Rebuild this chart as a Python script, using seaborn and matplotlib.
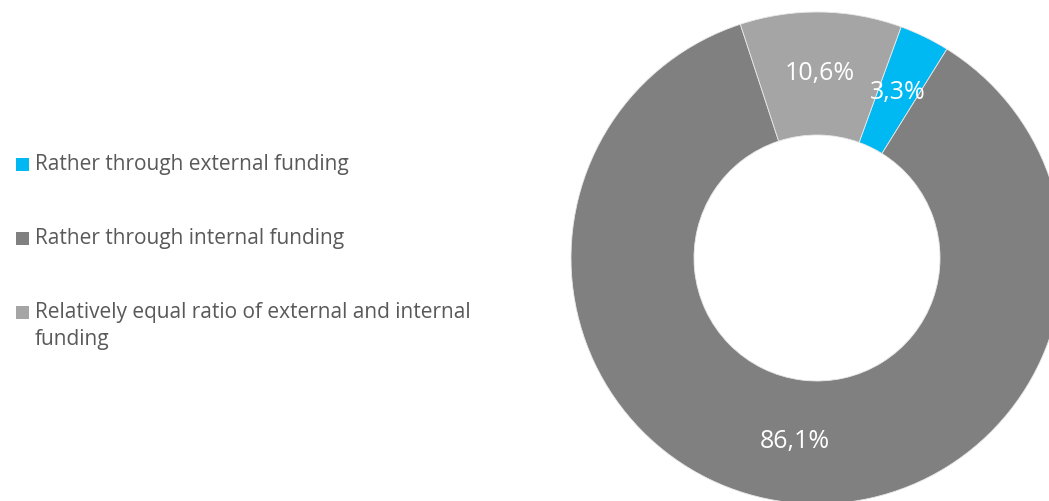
import matplotlib
matplotlib.use("Agg")
import matplotlib.pyplot as plt
from matplotlib.patches import Rectangle
import seaborn as sns

# Funding structure shares (percent)
categories = [
    "Rather through external funding",
    "Rather through internal funding",
    "Relatively equal ratio of external and internal\nfunding",
]
shares = [3.3, 86.1, 10.6]
value_labels = ["3,3%", "86,1%", "10,6%"]
colors = ["#00B9F2", "#808080", "#A5A5A5"]

sns.set_theme(style="white")
plt.rcParams["font.family"] = ["Open Sans", "DejaVu Sans"]

W, H = 1049, 501
fig = plt.figure(figsize=(W / 100, H / 100), dpi=100)

# Donut on the right, partly cut by the figure edge
cx, cy, r = 817, 258, 246
ax = fig.add_axes([(cx - r) / W, (H - cy - r) / H, 2 * r / W, 2 * r / H])

wedges, _texts, autotexts = ax.pie(
    shares,
    colors=colors,
    startangle=70,
    counterclock=False,
    radius=1.0,
    wedgeprops=dict(width=0.5, edgecolor="#e8e8e8", linewidth=0.6),
    autopct="%.1f%%",
    pctdistance=0.75,
    textprops=dict(color="white", fontsize=18),
)
for t, lab in zip(autotexts, value_labels):
    t.set_text(lab)
ax.set_xlim(-1, 1)
ax.set_ylim(-1, 1)
ax.set_aspect("equal")
ax.axis("off")

# Legend on the left: colour square plus label, one row per category
baselines = [170, 244, 318]
line_step = 27
for lab, col, base in zip(categories, colors, baselines):
    fig.patches.append(
        Rectangle(
            (16 / W, 1 - (base + 0.5) / H), 12.5 / W, 12.5 / H,
            transform=fig.transFigure, facecolor=col, edgecolor="none",
        )
    )
    for i, line in enumerate(lab.split("\n")):
        fig.text(
            35 / W, 1 - (base + line_step * i) / H, line,
            ha="left", va="baseline", fontsize=15, color="#595959",
        )

fig.savefig("out.png", dpi=100)
